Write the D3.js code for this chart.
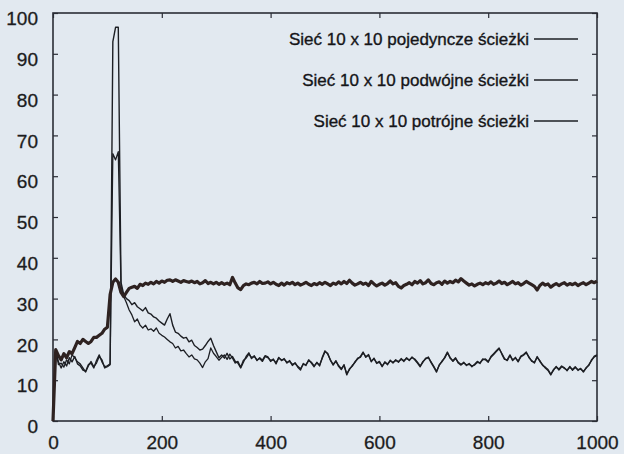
<!DOCTYPE html>
<html><head><meta charset="utf-8">
<script src="https://cdn.jsdelivr.net/npm/d3@7"></script>
<style>
html,body{margin:0;padding:0;background:#e2e9f0;}
svg{display:block;}
</style></head>
<body>
<svg id="chart" width="624" height="454"></svg>
<script>
// ---- data ----
const seriesNames = ["Sieć 10 x 10 pojedyncze ścieżki","Sieć 10 x 10 podwójne ścieżki","Sieć 10 x 10 potrójne ścieżki"];
const xTicks = [0,200,400,600,800,1000];
const yTicks = [0,10,20,30,40,50,60,70,80,90,100];
const time = d3.range(0, 1001, 5); // sampling step of the simulation time axis
const single = [0,17.5,16,15,16.5,15.5,17,16.5,18,19.5,19,20,19.5,19,19.5,20.5,20.5,21,21.5,22.5,23,31,34,34.8,34,31.5,30.5,31.5,32.5,32.8,
33,32.5,33.5,33.2,33.8,33.5,34,33.6,34.2,33.8,34.3,34,34.5,34.6,34.2,34.6,34.3,34,34.4,34.2,
34,34.3,33.9,34.2,33.6,33.9,34.4,33.7,34,33.6,34,33.5,33.9,33.5,33.8,33.4,35.2,33.8,32.6,32.2,
33.2,33.6,33.4,33.8,34,33.6,34.2,33.7,33.8,34.1,33.6,34,33.5,33.2,33.8,33.3,33.9,33.6,34,33.4,
33.8,33.3,33.6,34,33.5,33.2,33.7,33.4,33.9,33.5,34,33.6,33.2,33.8,33.5,34.1,33.6,34.2,33.7,34.5,
33.8,33.3,33.6,34,33.5,33.8,33.2,34.2,33.6,33.1,33.5,33.8,33.3,33.7,34.3,33.6,33.9,33,32.6,33.2,
33.5,33.9,33.4,34.2,33.8,34.4,33.6,33.9,34.6,33.7,33.4,33.9,34.1,33.5,34.3,33.8,34.2,33.9,34.5,34.1,
34.9,34.3,33.8,33.3,33.6,33.1,33.5,33.8,33.4,33.9,33.6,34.1,33.5,33.8,34.3,33.7,34,33.4,33.8,34.2,
33.6,33.9,33.3,33.7,34.2,33.8,33.4,33,32.1,33.2,33.8,33.3,33.6,32.8,33.3,33.7,33.2,33.6,33.9,33.3,
33.7,33.4,33.8,33.2,33.6,33.9,33.4,33.8,34.2,33.9,34.3];
const double = [0,17,14.5,13,14.5,13.5,15.5,14.5,15.8,14,13.5,12.5,12.2,13.8,14.2,13,14.8,16.2,14.5,13.3,13.5,14,93,96.5,96.5,34,31,30,29.5,28.5,
29,28,27.5,27,27.8,26.5,26.2,25.5,25.2,24.5,24,23.5,25,26.3,23.5,21.8,21.5,20.8,20.3,20.5,
19.4,19.8,18.5,18,17.4,17.6,18.5,19.5,20.3,18.5,17,15.5,16.2,15.4,16.6,15.2,15.8,14.6,14.2,13,
14.4,15.8,16.7,15.3,16,14.8,15.5,14.9,16,15.7,14.6,15.2,14,15.6,14.8,15.3,14.2,14.8,13.6,14.3,
13.2,12.5,14.1,13.6,15,14.2,13.3,14.4,13.5,15.6,17.2,16.4,15,13.7,14.8,13.4,12.6,13.8,11.3,12.8,
13.4,14.5,15.2,15.8,16.9,15.6,16.3,14.5,15.4,14.1,14.6,13.3,14.5,13.8,14.9,14.2,15,14.4,15.3,14.6,
15.5,14.8,15.7,15,14.2,13.3,14.6,15.2,15.7,14.3,13.2,12,13.8,14.5,15.6,16.9,15.4,14.8,15.5,14.2,
13.7,14.4,13.6,14.1,13.3,13.9,14.6,14.1,15.2,15,14.4,15.8,16.5,17.2,17.9,16.4,15.1,15,16.2,14.8,
15.6,14.5,15.9,16.3,16.9,15.5,14.8,14.2,15.8,14.6,13.8,13,12.4,11.3,12.6,13.2,12.7,13.5,12.9,12.5,
13.2,12.6,13.3,12.4,12.9,12,13.1,13.6,15,15.7,16];
const triple = [0,17.5,13.8,14.2,13.2,15,14,16.2,15.5,14.5,14,13,12,13.5,14.6,13.3,14.2,15.8,15,13,13.3,13.8,65.5,64,66,33,30.5,29,27.2,26,
24.3,25,23.5,22.8,23.5,22.3,22.6,22,22.8,21.5,21,20.6,20,19.4,19,17.9,18.3,17.2,17.4,16.5,
15.7,16.2,15.2,15,14.2,13.1,14.5,15.3,17.9,16.6,15.8,14.9,15.6,16.2,15.1,16.4,15.4,14.2,14.6,13.2,
14.9,15.4,16.4,15.6,15.8,15,15.3,14.6,15.8,15.5,14.9,15,14.3,15.4,15,15.1,14.4,14.6,13.9,14.1,
13.4,12.8,13.9,13.8,14.8,14.4,13.5,14.2,13.7,15.4,17,16.6,14.8,13.9,14.6,13.6,12.8,13.6,11.6,12.6,
13.6,14.3,15.4,15.6,16.7,15.8,16.1,14.7,15.2,14.3,14.4,13.5,14.3,14,14.7,14.4,14.8,14.6,15.1,14.8,
15.3,15,15.5,15.2,14.4,13.5,14.4,15.4,15.5,14.5,13.4,12.2,13.6,14.7,15.4,16.7,15.6,14.6,15.3,14.4,
13.9,14.2,13.8,13.9,13.5,13.7,14.4,14.3,15,15.2,14.6,15.6,16.3,17,17.7,16.6,15.3,14.8,16,15,
15.4,14.7,15.7,16.1,16.7,15.7,14.6,14.4,15.6,14.8,13.6,13.2,12.6,11.5,12.4,13.4,12.5,13.3,13.1,12.3,
13.4,12.4,13.1,12.6,12.7,12.2,12.9,13.8,14.8,15.9,16.2];

// ---- layout ----
const W = 624, H = 454;
const m = {left:53, right:27, top:13, bottom:33};
const svg = d3.select("#chart");
const x = d3.scaleLinear().domain([0,1000]).range([m.left, W-m.right]);
const y = d3.scaleLinear().domain([0,100]).range([H-m.bottom, m.top]);

const fontFam = "'Liberation Sans', Arial, Helvetica, sans-serif";
const axisCol = "#2b2d36";
const labCol = "#1c1c20";

function styleAxis(g){
  g.select(".domain").remove();
  g.selectAll(".tick line").attr("stroke", axisCol).attr("stroke-width",1.2);
}
svg.append("g").attr("transform",`translate(0,${y(0)})`)
  .call(d3.axisBottom(x).tickValues(xTicks).tickSize(-5).tickPadding(15).tickFormat(d3.format("d")))
  .call(styleAxis)
  .call(g=>g.selectAll("text").attr("font-family",fontFam).attr("font-size",19).attr("fill",labCol)
     .attr("stroke",labCol).attr("stroke-width",0.3));
svg.append("g").attr("transform",`translate(0,${y(100)})`)
  .call(d3.axisTop(x).tickValues(xTicks).tickSize(-5).tickFormat(""))
  .call(styleAxis);
svg.append("g").attr("transform",`translate(${x(0)},0)`)
  .call(d3.axisLeft(y).tickValues(yTicks).tickSize(-5).tickPadding(15).tickFormat(d3.format("d")))
  .call(styleAxis)
  .call(g=>g.selectAll("text").attr("font-family",fontFam).attr("font-size",19).attr("fill",labCol)
     .attr("stroke",labCol).attr("stroke-width",0.3).attr("dy","0.62em"));
svg.append("g").attr("transform",`translate(${x(1000)},0)`)
  .call(d3.axisRight(y).tickValues(yTicks).tickSize(-5).tickFormat(""))
  .call(styleAxis);

// frame
svg.append("rect")
  .attr("x", x(0)).attr("y", y(100))
  .attr("width", x(1000)-x(0)).attr("height", y(0)-y(100))
  .attr("fill","none").attr("stroke",axisCol).attr("stroke-width",1.6);

// lines
const line = d3.line().x((d,i)=>x(time[i])).y(d=>y(d));
const styles = [
  {data: single, w: 3.2, c:"#2e2221"},
  {data: double, w: 1.4, c:"#1d1f24"},
  {data: triple, w: 1.3, c:"#1d1f24"}
];
[1,2,0].forEach(k=>{
  svg.append("path").datum(styles[k].data)
    .attr("d", line).attr("fill","none")
    .attr("stroke", styles[k].c).attr("stroke-width", styles[k].w)
    .attr("stroke-linejoin","round");
});

// legend
const legY = [39, 80, 121];
const leg = svg.append("g");
seriesNames.forEach((n,i)=>{
  leg.append("text").attr("x",529).attr("y",legY[i]).attr("dy","0.35em")
    .attr("text-anchor","end").attr("font-family",fontFam).attr("font-size",17)
    .attr("fill","#151518").attr("stroke","#151518").attr("stroke-width",0.35).text(n);
  leg.append("line").attr("x1",534).attr("x2",578).attr("y1",legY[i]).attr("y2",legY[i])
    .attr("stroke","#1d1f24").attr("stroke-width", i===0?1.6:1.3);
});
</script>
</body></html>
